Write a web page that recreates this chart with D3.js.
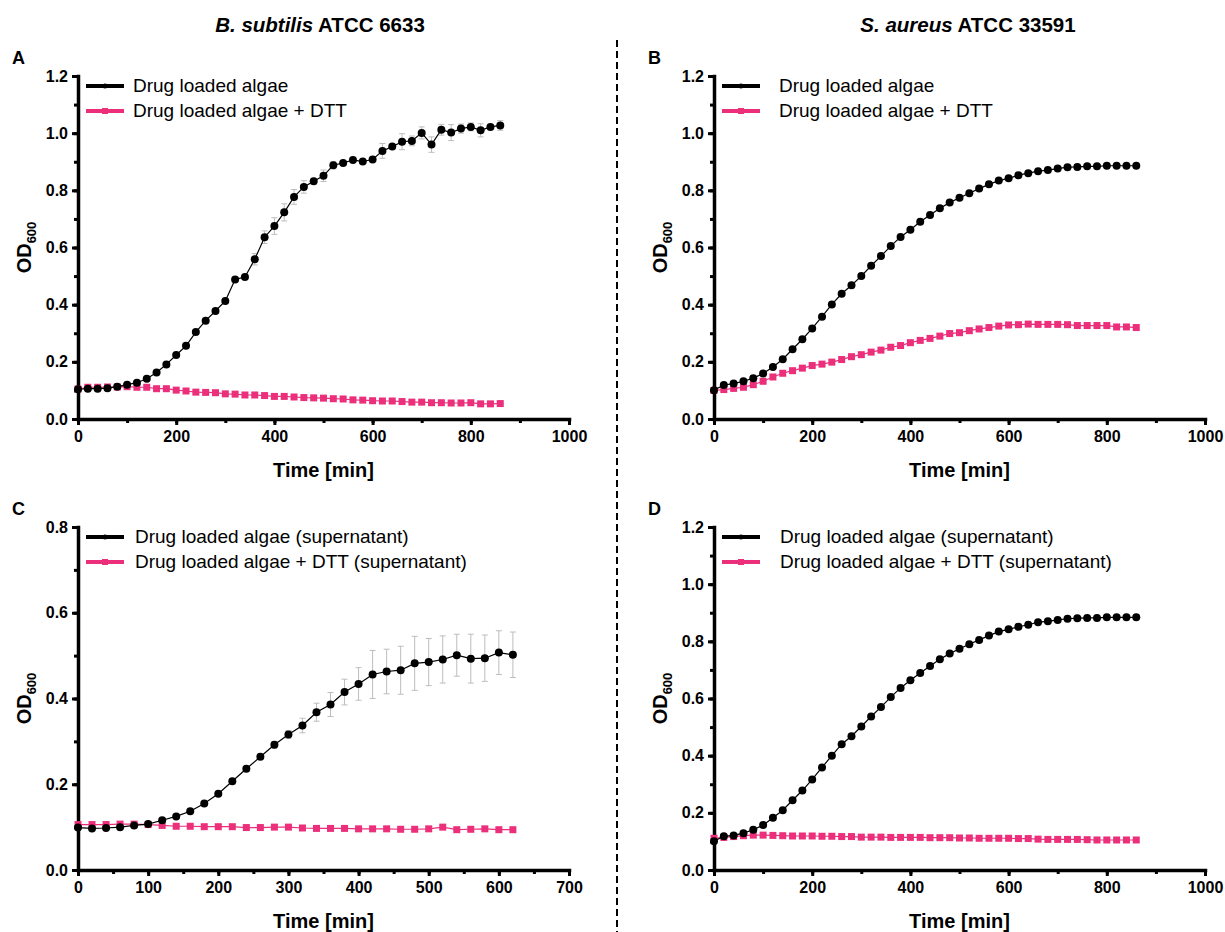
<!DOCTYPE html>
<meta charset="utf-8">
<style>
body { margin: 0; background: #fff; }
svg { font-family: "Liberation Sans", Arial, sans-serif; }
.axis path, .axis line { stroke: #000; }
.axis text { font-size: 16px; font-weight: bold; fill: #000; }
</style>
<body>
<script src="https://cdn.jsdelivr.net/npm/d3@7"></script>
<script>

// time points (min)
var timeLong = d3.range(0, 861, 20);   // panels A, B, D
var timeShort = d3.range(0, 621, 20);  // panel C

// A: B. subtilis, algae
var aAlgae = [0.104,0.106,0.106,0.108,0.113,0.120,0.127,0.141,0.163,0.191,0.224,0.256,0.304,0.344,0.378,0.413,0.488,0.497,0.559,0.636,0.675,0.723,0.777,0.812,0.832,0.851,0.888,0.896,0.906,0.901,0.908,0.938,0.953,0.970,0.973,1.001,0.960,1.012,1.002,1.016,1.022,1.010,1.022,1.027];
var aAlgaeErr = [0.002,0.002,0.002,0.002,0.003,0.003,0.003,0.004,0.004,0.004,0.005,0.005,0.006,0.006,0.006,0.007,0.006,0.007,0.020,0.022,0.029,0.030,0.026,0.022,0.010,0.020,0.013,0.006,0.006,0.005,0.006,0.026,0.008,0.028,0.017,0.021,0.027,0.019,0.028,0.016,0.014,0.023,0.008,0.017];
var aDtt = [0.105,0.111,0.111,0.112,0.112,0.113,0.111,0.111,0.106,0.106,0.101,0.098,0.094,0.093,0.092,0.088,0.087,0.084,0.084,0.082,0.079,0.079,0.077,0.075,0.074,0.073,0.071,0.070,0.067,0.066,0.064,0.063,0.063,0.061,0.059,0.059,0.057,0.057,0.056,0.056,0.057,0.053,0.053,0.054];

// B: S. aureus, algae
var bAlgae = [0.101,0.119,0.124,0.132,0.143,0.159,0.182,0.209,0.244,0.279,0.317,0.358,0.401,0.438,0.468,0.500,0.536,0.570,0.605,0.637,0.662,0.690,0.714,0.737,0.757,0.774,0.790,0.806,0.821,0.834,0.842,0.853,0.860,0.867,0.871,0.876,0.881,0.882,0.884,0.884,0.886,0.886,0.886,0.886];
var bDtt = [0.100,0.103,0.107,0.111,0.120,0.132,0.147,0.160,0.169,0.178,0.187,0.192,0.199,0.208,0.218,0.225,0.234,0.241,0.251,0.257,0.267,0.275,0.282,0.290,0.299,0.302,0.309,0.315,0.320,0.325,0.329,0.330,0.332,0.331,0.331,0.331,0.330,0.327,0.327,0.327,0.327,0.322,0.322,0.320];

// C: B. subtilis, supernatant
var cAlgae = [0.099,0.097,0.098,0.100,0.104,0.107,0.116,0.125,0.137,0.155,0.178,0.207,0.236,0.264,0.292,0.316,0.337,0.368,0.386,0.415,0.434,0.456,0.463,0.466,0.482,0.485,0.491,0.501,0.493,0.494,0.507,0.502];
var cAlgaeErr = [0.002,0.002,0.002,0.002,0.002,0.002,0.002,0.002,0.002,0.002,0.004,0.005,0.005,0.006,0.008,0.009,0.017,0.021,0.028,0.030,0.038,0.056,0.052,0.056,0.063,0.055,0.055,0.049,0.057,0.054,0.051,0.053];
var cDtt = [0.106,0.106,0.106,0.107,0.107,0.106,0.104,0.102,0.102,0.101,0.101,0.101,0.099,0.099,0.100,0.100,0.098,0.097,0.097,0.097,0.096,0.096,0.096,0.095,0.095,0.096,0.100,0.094,0.095,0.096,0.094,0.094];

// D: S. aureus, supernatant
var dAlgae = [0.101,0.118,0.121,0.129,0.141,0.157,0.183,0.209,0.244,0.278,0.317,0.359,0.400,0.440,0.468,0.502,0.537,0.570,0.605,0.637,0.664,0.689,0.714,0.737,0.757,0.774,0.790,0.805,0.820,0.834,0.842,0.851,0.858,0.867,0.870,0.875,0.879,0.881,0.882,0.882,0.884,0.884,0.884,0.884];
var dDtt = [0.111,0.114,0.117,0.120,0.122,0.122,0.121,0.120,0.119,0.119,0.119,0.118,0.118,0.117,0.117,0.115,0.115,0.115,0.114,0.114,0.114,0.114,0.113,0.113,0.113,0.112,0.112,0.111,0.111,0.111,0.111,0.110,0.110,0.108,0.107,0.107,0.107,0.107,0.106,0.105,0.105,0.105,0.105,0.105];

var legendWhole = ["Drug loaded algae", "Drug loaded algae + DTT"];
var legendSuper = ["Drug loaded algae (supernatant)", "Drug loaded algae + DTT (supernatant)"];

var pink = "#ec2f7b";

var svg = d3.select("body").append("svg")
    .attr("width", 1225)
    .attr("height", 932);

// column titles
var titles = [
  {x: 320, it: "B. subtilis", rest: " ATCC 6633"},
  {x: 968, it: "S. aureus", rest: " ATCC 33591"}
];
titles.forEach(function(t) {
  var tx = svg.append("text")
      .attr("x", t.x).attr("y", 32)
      .attr("text-anchor", "middle")
      .style("font-size", "20.5px").style("font-weight", "bold");
  tx.append("tspan").style("font-style", "italic").text(t.it);
  tx.append("tspan").text(t.rest);
});

// divider
svg.append("line")
    .attr("x1", 617).attr("x2", 617)
    .attr("y1", 40).attr("y2", 932)
    .attr("stroke", "#000")
    .attr("stroke-width", 2)
    .attr("stroke-dasharray", "7,4");

var panels = [
  {letter: "A", left: 78, right: 569, top: 76, bottom: 419, xMax: 1000, xStep: 200, xMinor: 100, yMax: 1.2,
   t: timeLong, s1: aAlgae, e1: aAlgaeErr, s2: aDtt, legend: legendWhole, legX: 133},
  {letter: "B", left: 714, right: 1205, top: 76, bottom: 419, xMax: 1000, xStep: 200, xMinor: 100, yMax: 1.2,
   t: timeLong, s1: bAlgae, e1: null, s2: bDtt, legend: legendWhole, legX: 779},
  {letter: "C", left: 78, right: 569, top: 527, bottom: 870, xMax: 700, xStep: 100, xMinor: 50, yMax: 0.8,
   t: timeShort, s1: cAlgae, e1: cAlgaeErr, s2: cDtt, legend: legendSuper, legX: 135},
  {letter: "D", left: 714, right: 1205, top: 527, bottom: 870, xMax: 1000, xStep: 200, xMinor: 100, yMax: 1.2,
   t: timeLong, s1: dAlgae, e1: null, s2: dDtt, legend: legendSuper, legX: 780}
];

panels.forEach(drawPanel);

function drawPanel(p) {
  var x = d3.scaleLinear().domain([0, p.xMax]).range([p.left, p.right]);
  var y = d3.scaleLinear().domain([0, p.yMax]).range([p.bottom, p.top]);
  var g = svg.append("g");

  // panel letter
  g.append("text")
      .attr("x", p.left - 66).attr("y", p.top - 12)
      .style("font-size", "18px").style("font-weight", "bold")
      .text(p.letter);

  // minor ticks
  g.append("g").attr("class", "axis")
      .attr("transform", "translate(" + p.left + ",0)")
      .call(d3.axisLeft(y).tickValues(d3.range(0, p.yMax + 0.001, 0.1)).tickSize(4).tickFormat(""))
      .call(function(a) { a.select(".domain").remove(); a.selectAll("line").attr("stroke-width", 3); });
  g.append("g").attr("class", "axis")
      .attr("transform", "translate(0," + p.bottom + ")")
      .call(d3.axisBottom(x).tickValues(d3.range(0, p.xMax + 1, p.xMinor)).tickSize(4).tickFormat(""))
      .call(function(a) { a.select(".domain").remove(); a.selectAll("line").attr("stroke-width", 3); });

  // major axes
  g.append("g").attr("class", "axis")
      .attr("transform", "translate(" + p.left + ",0)")
      .call(d3.axisLeft(y).tickValues(d3.range(0, p.yMax + 0.001, 0.2)).tickFormat(d3.format(".1f"))
        .tickSize(6).tickSizeOuter(0).tickPadding(4))
      .call(function(a) {
        a.select(".domain").attr("stroke-width", 3.5).attr("stroke-linecap", "square");
        a.selectAll("line").attr("stroke-width", 3);
      });
  g.append("g").attr("class", "axis")
      .attr("transform", "translate(0," + p.bottom + ")")
      .call(d3.axisBottom(x).tickValues(d3.range(0, p.xMax + 1, p.xStep)).tickFormat(d3.format("d"))
        .tickSize(6).tickSizeOuter(0).tickPadding(6))
      .call(function(a) {
        a.select(".domain").attr("stroke-width", 3.5).attr("stroke-linecap", "square");
        a.selectAll("line").attr("stroke-width", 3);
      });

  // axis titles
  g.append("text")
      .attr("x", (p.left + p.right) / 2).attr("y", p.bottom + 58)
      .attr("text-anchor", "middle")
      .style("font-size", "20px").style("font-weight", "bold")
      .text("Time [min]");
  var yl = g.append("text")
      .attr("transform", "translate(" + (p.left - 47) + "," + ((p.top + p.bottom) / 2) + ") rotate(-90)")
      .attr("text-anchor", "middle")
      .style("font-size", "20px").style("font-weight", "bold");
  yl.append("tspan").text("OD");
  yl.append("tspan").attr("dy", "0.35em").style("font-size", "13px").text("600");

  var s1 = p.t.map(function(t, i) { return {t: t, v: p.s1[i], e: p.e1 ? p.e1[i] : 0}; });
  var s2 = p.t.map(function(t, i) { return {t: t, v: p.s2[i]}; });
  var line = d3.line().x(function(d) { return x(d.t); }).y(function(d) { return y(d.v); });

  // error bars
  if (p.e1) {
    var eb = g.append("g").attr("stroke", "#bdbdbd").attr("stroke-width", 1).attr("fill", "none");
    eb.selectAll(".eb").data(s1).enter().append("path")
        .attr("d", function(d) {
          var cx = x(d.t), ya = y(d.v + d.e), yb = y(d.v - d.e);
          return "M" + (cx - 3) + "," + ya + "H" + (cx + 3) +
                 "M" + cx + "," + ya + "V" + yb +
                 "M" + (cx - 3) + "," + yb + "H" + (cx + 3);
        });
  }

  // DTT series (pink squares)
  g.append("path").datum(s2)
      .attr("d", line).attr("fill", "none").attr("stroke", pink).attr("stroke-width", 1.2);
  g.selectAll(".sq").data(s2).enter().append("rect")
      .attr("x", function(d) { return x(d.t) - 3.5; })
      .attr("y", function(d) { return y(d.v) - 3.5; })
      .attr("width", 7).attr("height", 7)
      .attr("fill", pink);

  // algae series (black circles)
  g.append("path").datum(s1)
      .attr("d", line).attr("fill", "none").attr("stroke", "#000").attr("stroke-width", 1.2);
  g.selectAll(".dot").data(s1).enter().append("circle")
      .attr("cx", function(d) { return x(d.t); })
      .attr("cy", function(d) { return y(d.v); })
      .attr("r", 4).attr("fill", "#000");

  // legend
  var lg = g.append("g");
  var ly = [p.top + 10, p.top + 35];
  [0, 1].forEach(function(i) {
    var col = i === 0 ? "#000" : pink;
    lg.append("line")
        .attr("x1", p.left + 8).attr("x2", p.left + 46)
        .attr("y1", ly[i]).attr("y2", ly[i])
        .attr("stroke", col).attr("stroke-width", 4);
    if (i === 0) {
      lg.append("circle").attr("cx", p.left + 27).attr("cy", ly[i]).attr("r", 2.5).attr("fill", col);
    } else {
      lg.append("rect").attr("x", p.left + 24).attr("y", ly[i] - 3).attr("width", 6).attr("height", 6).attr("fill", col);
    }
    lg.append("text")
        .attr("x", p.legX).attr("y", ly[i] + 6)
        .style("font-size", "19px")
        .text(p.legend[i]);
  });
}
</script>
</body>
